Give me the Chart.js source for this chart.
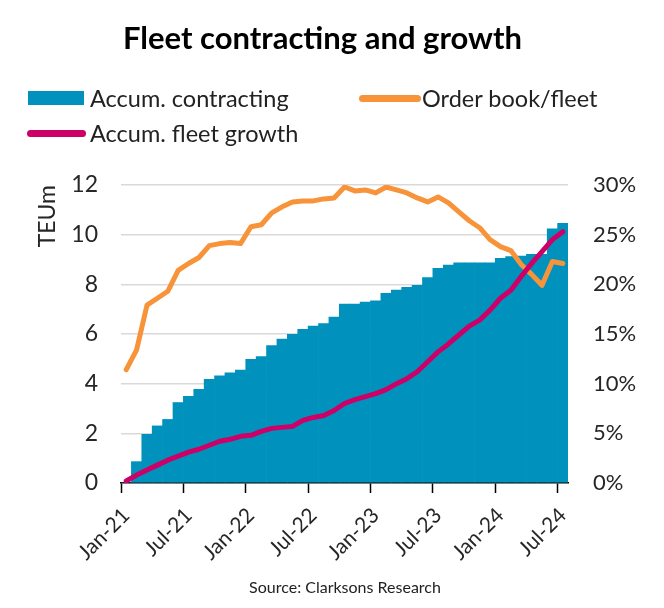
<!DOCTYPE html>
<html>
<head>
<meta charset="utf-8">
<script src="https://cdn.jsdelivr.net/npm/chart.js@4.4.1/dist/chart.umd.min.js"></script>
<style>
  body { margin: 0; background: #fff; font-family: Lato, "Open Sans", sans-serif; }
  #wrap { position: relative; width: 664px; height: 608px; }
  #chart { position: absolute; left: 0; top: 0; }
  .title { position: absolute; left: 0; top: 18px; width: 645px; text-align: center;
           font-size: 31px; font-weight: bold; color: #000; }
  .leg { position: absolute; font-size: 23.5px; color: #222; line-height: 26px; }
  .sw { position: absolute; }
  .source { position: absolute; left: 0; width: 690px; top: 577px; text-align: center;
            font-size: 16px; color: #222; }
</style>
</head>
<body>
<div id="wrap">
  <canvas id="chart" width="664" height="608"></canvas>
  <div class="title">Fleet contracting and growth</div>

  <div class="sw" style="left:28px;top:91px;width:56px;height:14px;background:#0092BD"></div>
  <div class="leg" style="left:90px;top:85px">Accum. contracting</div>

  <div class="sw" style="left:359px;top:95px;width:62px;height:7px;border-radius:4px;background:#F7943A"></div>
  <div class="leg" style="left:422px;top:85px">Order book/fleet</div>

  <div class="sw" style="left:27px;top:130px;width:59px;height:7px;border-radius:4px;background:#CC0066"></div>
  <div class="leg" style="left:90px;top:120px">Accum. fleet growth</div>

  <div class="source">Source: Clarksons Research</div>
</div>
<script>
"use strict";

// Months on the x axis (monthly, Jan-21 .. Jul-24)
const months = [
  "Jan-21", "Feb-21", "Mar-21", "Apr-21", "May-21", "Jun-21", "Jul-21", "Aug-21", "Sep-21", "Oct-21", "Nov-21", "Dec-21",
  "Jan-22", "Feb-22", "Mar-22", "Apr-22", "May-22", "Jun-22", "Jul-22", "Aug-22", "Sep-22", "Oct-22", "Nov-22", "Dec-22",
  "Jan-23", "Feb-23", "Mar-23", "Apr-23", "May-23", "Jun-23", "Jul-23", "Aug-23", "Sep-23", "Oct-23", "Nov-23", "Dec-23",
  "Jan-24", "Feb-24", "Mar-24", "Apr-24", "May-24", "Jun-24", "Jul-24"
];

// Only these months get a label and a tick mark
const tickMonths = ["Jan-21", "Jul-21", "Jan-22", "Jul-22", "Jan-23", "Jul-23", "Jan-24", "Jul-24"];

// Accumulated contracting, TEUm (left axis)
const contracting = [
  0, 0.86, 1.96, 2.30, 2.56, 3.24, 3.49, 3.77, 4.17, 4.32, 4.44, 4.55,
  4.98, 5.09, 5.53, 5.80, 5.99, 6.19, 6.32, 6.42, 6.68, 7.20, 7.20, 7.29,
  7.34, 7.64, 7.77, 7.88, 7.96, 8.27, 8.64, 8.78, 8.87, 8.87, 8.87, 8.87,
  9.05, 9.12, 9.14, 9.21, 9.21, 10.24, 10.46
];

// Order book / fleet, % (right axis)
const orderBook = [
  11.4, 13.4, 17.9, 18.6, 19.3, 21.4, 22.1, 22.7, 23.9, 24.1, 24.2, 24.1,
  25.8, 26.0, 27.2, 27.8, 28.3, 28.4, 28.4, 28.6, 28.7, 29.8, 29.4, 29.5,
  29.2, 29.8, 29.5, 29.2, 28.7, 28.3, 28.8, 28.2, 27.3, 26.4, 25.7, 24.5,
  23.8, 23.4, 22.0, 21.0, 19.9, 22.3, 22.1
];

// Accumulated fleet growth, % (right axis)
const fleetGrowth = [
  0.2, 0.8, 1.3, 1.8, 2.3, 2.7, 3.1, 3.4, 3.8, 4.2, 4.4, 4.7,
  4.8, 5.2, 5.5, 5.6, 5.7, 6.3, 6.6, 6.8, 7.3, 8.0, 8.4, 8.7,
  9.0, 9.4, 10.0, 10.5, 11.2, 12.2, 13.2, 14.0, 14.9, 15.8, 16.4, 17.4,
  18.6, 19.4, 20.8, 22.1, 23.3, 24.5, 25.3
];

const textColor = "#262626";

const config = {
  type: "bar",
  data: {
    labels: months,
    datasets: [
      {
        label: "Accum. fleet growth",
        type: "line",
        data: fleetGrowth,
        yAxisID: "y1",
        borderColor: "#CC0066",
        borderWidth: 5,
        pointRadius: 0,
        borderJoinStyle: "round",
        borderCapStyle: "round",
        order: 0
      },
      {
        label: "Order book/fleet",
        type: "line",
        data: orderBook,
        yAxisID: "y1",
        borderColor: "#F7943A",
        borderWidth: 5,
        pointRadius: 0,
        borderJoinStyle: "round",
        borderCapStyle: "round",
        order: 1
      },
      {
        label: "Accum. contracting",
        data: contracting,
        yAxisID: "y",
        backgroundColor: "#0092BD",
        borderWidth: 0,
        barPercentage: 1,
        categoryPercentage: 1,
        order: 2
      }
    ]
  },
  options: {
    responsive: false,
    animation: false,
    layout: { padding: { top: 185, left: 0, right: 0, bottom: 0 } },
    plugins: {
      legend: { display: false },
      tooltip: { enabled: false }
    },
    scales: {
      x: {
        type: "category",
        offset: true,
        grid: {
          offset: true,
          drawOnChartArea: false,
          drawTicks: true,
          tickLength: 10,
          tickWidth: 1.5,
          tickColor: ctx => tickMonths.includes(months[ctx.index]) ? "#000" : "rgba(0,0,0,0)"
        },
        border: { display: true, color: "#000", width: 1.5 },
        ticks: {
          autoSkip: false,
          minRotation: 45,
          maxRotation: 45,
          padding: 10,
          font: { family: "Lato", size: 21 },
          color: textColor,
          callback: (v, i) => tickMonths.includes(months[i]) ? months[i] : ""
        },
        afterFit: scale => { scale.height = 125; }
      },
      y: {
        position: "left",
        min: 0,
        max: 12,
        ticks: { stepSize: 2, font: { family: "Lato", size: 23 }, color: textColor, padding: 23 },
        grid: {
          drawTicks: false,
          lineWidth: 1.5,
          color: ctx => ctx.tick && ctx.tick.value === 0 ? "rgba(0,0,0,0)" : "#D9D9D9"
        },
        border: { display: false },
        title: {
          display: true,
          text: "TEUm",
          align: "end",
          font: { family: "Lato", size: 23 },
          color: textColor,
          padding: { top: 34, bottom: 0 }
        },
        afterFit: scale => { scale.width = 121; }
      },
      y1: {
        position: "right",
        min: 0,
        max: 30,
        ticks: {
          stepSize: 5,
          font: { family: "Lato", size: 22 },
          color: textColor,
          padding: 25,
          callback: v => v + "%"
        },
        grid: { drawOnChartArea: false, drawTicks: false },
        border: { display: false },
        afterFit: scale => { scale.width = 96; }
      }
    }
  }
};

const myChart = new Chart(document.getElementById("chart"), config);
</script>
</body>
</html>
